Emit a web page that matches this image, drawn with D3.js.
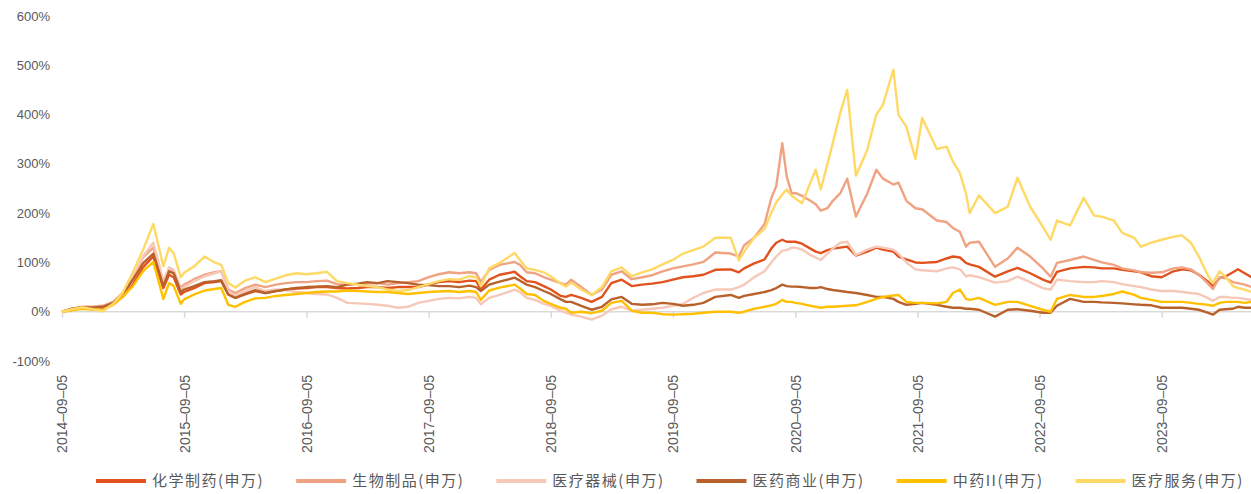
<!DOCTYPE html>
<html lang="zh-CN">

<head>
    <meta charset="UTF-8">
    <title>医药子行业累计涨跌幅</title>
    <script src="https://d3js.org/d3.v7.min.js"></script>
    <style>
        body {
            margin: 0;
            background: #fff;
        }

        .tick-label {
            font-family: "Liberation Sans", Arial, sans-serif;
            font-size: 13px;
            fill: #595959;
        }

        .x-label {
            font-size: 14px;
        }

        .legend-text {
            font-family: "Noto Sans CJK SC", sans-serif;
            font-size: 15px;
            fill: #595959;
            letter-spacing: 1.5px;
        }
    </style>
</head>

<body>
    <div id="chart"></div>

    <script>
        // 日期（累计涨跌幅采样点）
        const dates = [
            "2014-09-05", "2014-10-05", "2014-11-05", "2014-12-05", "2015-01-05", "2015-02-05", "2015-03-05", "2015-04-05",
            "2015-05-05", "2015-06-05", "2015-07-05", "2015-07-22", "2015-08-05", "2015-08-26", "2015-09-05", "2015-10-05",
            "2015-11-05", "2015-12-05", "2015-12-25", "2016-01-15", "2016-02-05", "2016-03-05", "2016-04-05", "2016-05-05",
            "2016-06-05", "2016-07-05", "2016-08-05", "2016-09-05", "2016-10-05", "2016-11-05", "2016-12-05", "2017-01-05",
            "2017-02-05", "2017-03-05", "2017-04-05", "2017-05-05", "2017-06-05", "2017-07-05", "2017-08-05", "2017-09-05",
            "2017-10-05", "2017-11-05", "2017-12-05", "2018-01-05", "2018-01-25", "2018-02-08", "2018-03-05", "2018-04-05",
            "2018-05-20", "2018-06-05", "2018-06-25", "2018-07-20", "2018-08-15", "2018-09-05", "2018-10-05", "2018-10-20",
            "2018-11-05", "2018-12-05", "2019-01-05", "2019-02-05", "2019-03-05", "2019-04-05", "2019-05-05", "2019-06-05",
            "2019-07-05", "2019-08-05", "2019-09-05", "2019-10-05", "2019-11-05", "2019-12-05", "2020-01-10", "2020-02-25",
            "2020-03-20", "2020-04-05", "2020-05-05", "2020-06-05", "2020-06-25", "2020-07-10", "2020-07-28", "2020-08-10",
            "2020-08-25", "2020-09-05", "2020-09-25", "2020-10-20", "2020-11-05", "2020-11-20", "2020-12-10", "2020-12-26",
            "2021-01-17", "2021-02-07", "2021-03-05", "2021-04-08", "2021-05-05", "2021-05-25", "2021-06-25", "2021-07-10",
            "2021-08-03", "2021-08-30", "2021-09-19", "2021-11-02", "2021-12-01", "2021-12-20", "2022-01-10", "2022-01-28",
            "2022-02-08", "2022-03-08", "2022-04-25", "2022-06-02", "2022-07-01", "2022-08-08", "2022-09-15", "2022-10-08",
            "2022-10-27", "2022-12-05", "2023-01-15", "2023-02-15", "2023-03-10", "2023-04-15", "2023-05-10", "2023-06-15",
            "2023-07-05", "2023-08-05", "2023-09-05", "2023-10-10", "2023-11-05", "2023-12-01", "2023-12-25", "2024-01-20",
            "2024-02-05", "2024-02-25", "2024-03-15", "2024-04-05", "2024-04-20", "2024-05-10", "2024-05-31"
        ];

        // 各子行业累计涨跌幅（%）
        const chemPharma = [
            0, 4, 8, 6, 8, 15, 30, 55, 90, 112, 48, 75, 70, 35, 40, 48,
            58, 60, 62, 35, 28, 35, 42, 38, 42, 45, 47, 48, 50, 50, 48, 47,
            48, 50, 50, 48, 50, 50, 50, 55, 60, 62, 60, 63, 62, 45, 65, 75,
            81, 72, 62, 60, 52, 45, 32, 30, 34, 28, 20, 30, 58, 65, 52, 55,
            57, 60, 65, 70, 72, 75, 85, 86, 80, 88, 98, 106, 128, 140, 146, 142,
            142, 142, 138, 128, 122, 119, 125, 128, 130, 132, 114, 122, 130, 126, 122, 112,
            106, 100, 99, 101, 108, 112, 110, 99, 96, 91, 71, 82, 89, 78, 65, 59,
            81, 88, 91, 90, 88, 88, 85, 82, 80, 72, 70, 82, 86, 84, 75, 62,
            52, 68, 72, 80, 86, 78, 70
        ];
        const bioProducts = [
            0, 6, 10, 10, 12, 20, 38, 68, 110, 130, 60, 88, 82, 48, 55, 66,
            75, 80, 82, 45, 38, 48, 55, 50, 55, 58, 60, 60, 62, 63, 56, 55,
            56, 57, 58, 55, 58, 60, 62, 70, 76, 80, 78, 80, 78, 60, 85, 95,
            101, 95, 80, 78, 70, 65, 58, 55, 65, 50, 34, 45, 75, 82, 66, 70,
            74, 82, 88, 92, 96, 101, 120, 118, 112, 135, 150, 178, 230, 255, 342, 275,
            240, 241, 235, 225, 218, 205, 210, 225, 240, 270, 193, 240, 288, 270, 258, 262,
            225, 210, 208, 185, 182, 170, 162, 132, 140, 142, 91, 108, 130, 112, 88, 71,
            99, 105, 112, 105, 100, 95, 88, 84, 80, 79, 80, 88, 90, 86, 75, 58,
            46, 70, 68, 60, 58, 55, 50
        ];
        const medDevices = [
            0, 4, 8, 6, 10, 18, 35, 65, 112, 140, 62, 90, 85, 45, 50, 62,
            72, 78, 82, 42, 32, 42, 50, 42, 45, 44, 40, 38, 36, 35, 28, 18,
            17, 16, 14, 12, 8, 10, 18, 22, 26, 28, 27, 30, 28, 15, 28, 34,
            45, 40, 28, 24, 16, 12, 2, -2, -6, -10, -16, -8, 5, 10, 2, 4,
            6, 8, 12, 16, 28, 38, 45, 45, 50, 55, 70, 82, 100, 112, 124, 125,
            130, 130, 126, 115, 110, 105, 118, 128, 140, 142, 115, 126, 132, 130, 126, 118,
            100, 86, 84, 82, 88, 90, 86, 72, 74, 70, 59, 62, 71, 60, 48, 45,
            65, 62, 60, 60, 62, 60, 56, 52, 50, 45, 42, 42, 40, 38, 36, 28,
            22, 30, 30, 28, 28, 26, 24
        ];
        const pharmaCommerce = [
            0, 6, 9, 8, 10, 18, 35, 65, 98, 118, 52, 82, 78, 40, 45, 52,
            60, 62, 64, 35, 28, 36, 44, 38, 42, 45, 48, 50, 51, 52, 50, 55,
            57, 60, 58, 62, 60, 58, 55, 54, 52, 52, 50, 53, 50, 42, 55, 61,
            69, 63, 55, 50, 42, 36, 25, 20, 20, 12, 4, 10, 25, 30, 16, 14,
            15, 18, 16, 12, 14, 18, 30, 34, 28, 32, 36, 40, 44, 48, 55, 52,
            51, 51, 50, 48, 48, 50, 46, 44, 42, 40, 38, 34, 30, 30, 26, 20,
            14, 16, 18, 14, 10, 8, 8, 6, 6, 4, -10, 4, 5, 2, -2, -2,
            12, 26, 20, 20, 19, 18, 17, 15, 14, 13, 8, 8, 8, 6, 4, -2,
            -6, 4, 5, 6, 10, 8, 8
        ];
        const tcm = [
            0, 3, 6, 4, 4, 14, 30, 52, 82, 101, 26, 58, 52, 16, 25, 35,
            43, 46, 48, 14, 10, 20, 27, 28, 32, 34, 36, 38, 40, 41, 41, 43,
            42, 41, 40, 40, 38, 36, 38, 40, 41, 42, 40, 42, 40, 24, 43, 49,
            55, 47, 36, 34, 22, 16, 8, 6, -2, 0, -3, 2, 18, 22, 2, -2,
            -2, -5, -6, -5, -4, -2, 0, 0, -2, 0, 6, 10, 13, 16, 24, 20,
            20, 18, 16, 12, 10, 8, 10, 10, 11, 12, 13, 20, 26, 30, 33, 34,
            20, 18, 18, 17, 20, 38, 45, 26, 24, 28, 14, 20, 20, 12, 4, 0,
            26, 34, 30, 30, 32, 36, 41, 34, 28, 24, 20, 20, 20, 18, 16, 14,
            12, 18, 20, 20, 20, 18, 20
        ];
        const medServices = [
            0, 5, 9, 5, 1, 16, 38, 80, 125, 178, 92, 130, 118, 70, 79, 92,
            112, 100, 95, 58, 49, 63, 70, 60, 67, 74, 78, 76, 78, 81, 62, 58,
            55, 52, 50, 45, 42, 44, 50, 56, 62, 66, 65, 72, 70, 52, 88, 99,
            119, 105, 88, 85, 80, 72, 57, 51, 59, 45, 34, 50, 82, 90, 72, 80,
            86, 96, 105, 118, 125, 132, 150, 150, 104, 122, 150, 168, 200, 222, 238, 248,
            235, 230, 220, 262, 288, 248, 300, 342, 403, 450, 276, 328, 400, 420, 491, 400,
            375, 310, 393, 330, 335, 305, 281, 240, 200, 236, 200, 213, 272, 213, 172, 146,
            185, 175, 231, 195, 193, 185, 160, 150, 132, 140, 146, 152, 155, 140, 112, 75,
            58, 82, 70, 52, 48, 45, 40
        ];

        const seriesNames = ["化学制药(申万)", "生物制品(申万)", "医疗器械(申万)", "医药商业(申万)", "中药II(申万)", "医疗服务(申万)"];
        const seriesValues = [chemPharma, bioProducts, medDevices, pharmaCommerce, tcm, medServices];
        const colors = ["#E1521E", "#F0A382", "#F6C8B8", "#B9612B", "#FFC000", "#FFD966"];

        const xTickLabels = ["2014-09-05", "2015-09-05", "2016-09-05", "2017-09-05", "2018-09-05",
            "2019-09-05", "2020-09-05", "2021-09-05", "2022-09-05", "2023-09-05"];
        const yTicks = [-100, 0, 100, 200, 300, 400, 500, 600];

        function draw() {
            const width = 1251, height = 494;
            const parse = d3.utcParse("%Y-%m-%d");
            const parsedDates = dates.map(parse);

            const x = d3.scaleUtc()
                .domain([parse("2014-09-05"), parse("2024-06-01")])
                .range([62, 1252]);
            const y = d3.scaleLinear()
                .domain([-100, 600])
                .range([361, 16]);

            const svg = d3.select("#chart").append("svg")
                .attr("width", width)
                .attr("height", height);

            // y 轴标签（无轴线）
            svg.append("g")
                .selectAll("text")
                .data(yTicks)
                .enter().append("text")
                .attr("class", "tick-label")
                .attr("x", 50)
                .attr("y", d => y(d))
                .attr("dy", "0.35em")
                .attr("text-anchor", "end")
                .text(d => d + "%");

            // x 轴放在 0% 处
            const xAxis = d3.axisBottom(x)
                .tickValues(xTickLabels.map(parse))
                .tickSize(6)
                .tickFormat(d => d3.utcFormat("%Y-%m-%d")(d).replace(/-/g, "–"));

            const gx = svg.append("g")
                .attr("transform", "translate(0," + y(0) + ")")
                .call(xAxis);
            gx.select(".domain")
                .attr("d", "M" + x.range()[0] + ",0H" + width)
                .attr("stroke", "#d9d9d9")
                .attr("stroke-width", 1.5);
            gx.selectAll(".tick line")
                .attr("stroke", "#d9d9d9")
                .attr("stroke-width", 1.5);
            gx.selectAll(".tick text")
                .attr("class", "tick-label x-label")
                .attr("transform", "translate(0," + (375 - y(0)) + ") rotate(-90)")
                .attr("x", 0)
                .attr("y", 0)
                .attr("dy", "0.35em")
                .attr("text-anchor", "end");

            // 折线
            const line = d3.line()
                .x((d, i) => x(parsedDates[i]))
                .y(d => y(d));

            svg.append("g")
                .selectAll("path")
                .data(seriesValues)
                .enter().append("path")
                .attr("d", line)
                .attr("fill", "none")
                .attr("stroke", (d, i) => colors[i])
                .attr("stroke-width", 2.4)
                .attr("stroke-linejoin", "round");

            // 图例
            const legend = svg.append("g").attr("transform", "translate(0,481)");
            let lx = 96;
            seriesNames.forEach((name, i) => {
                const item = legend.append("g").attr("transform", "translate(" + lx + ",0)");
                item.append("line")
                    .attr("x1", 0).attr("x2", 50)
                    .attr("y1", 0).attr("y2", 0)
                    .attr("stroke", colors[i])
                    .attr("stroke-width", 4);
                const t = item.append("text")
                    .attr("class", "legend-text")
                    .attr("x", 56)
                    .attr("dy", "0.35em")
                    .text(name);
                lx += 56 + t.node().getComputedTextLength() + 32;
            });
        }

        draw();
    </script>
</body>

</html>
